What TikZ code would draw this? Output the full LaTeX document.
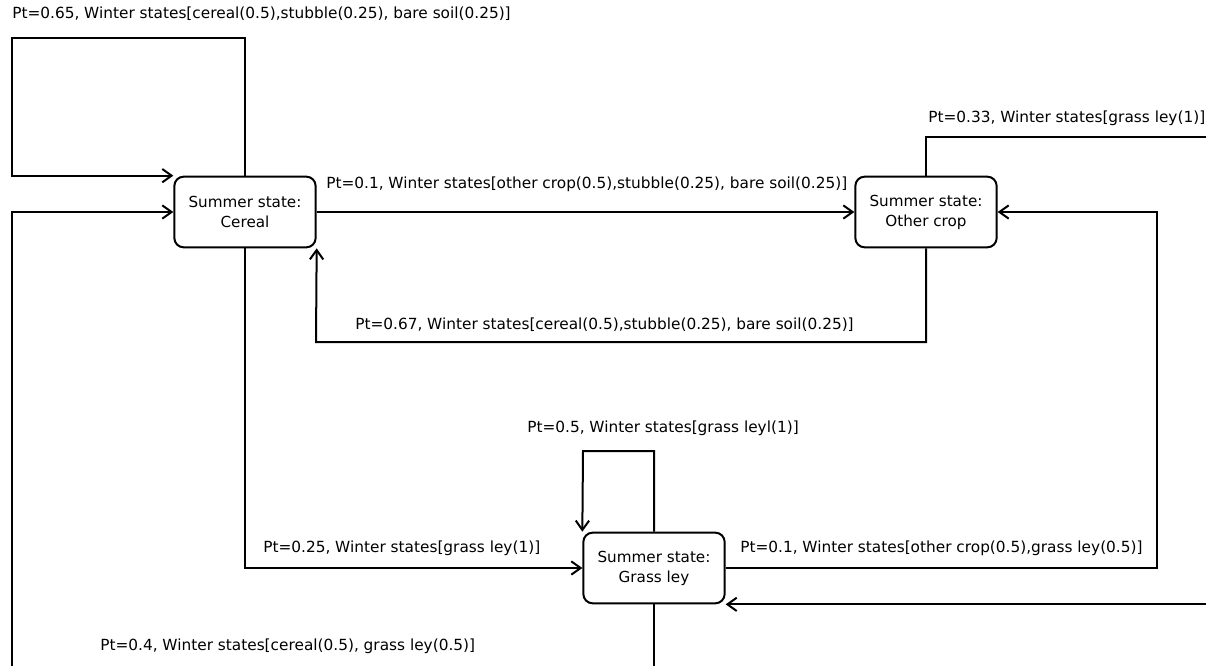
\documentclass[tikz,border=0pt]{standalone}
\usepackage{fontspec}
\setmainfont{DejaVu Sans}
\usetikzlibrary{arrows, arrows.meta}
\usetikzlibrary{positioning}

\begin{document}
\begin{tikzpicture}[x=0.75pt, y=-0.75pt,
  state/.style={draw, line width=1.5pt, rounded corners=7pt, minimum width=106pt, minimum height=53pt, align=center, font=\fontsize{11.4}{15}\selectfont},
  link/.style={-{Straight Barb[length=7pt, width=10pt]}, line width=1.5pt},
  lbl/.style={font=\fontsize{11.5}{13}\selectfont, inner sep=0pt}]

\useasboundingbox (0,0) rectangle (1206,665);
\clip (0,0) rectangle (1206,665);

%states
\node [state] (cereal) at (245,212) {Summer state:\\Cereal};
\node [state] (other) at (926,212) {Summer state:\\Other crop};
\node [state] (grass) at (654,568) {Summer state:\\Grass ley};

%corners
\coordinate (loopc) at (12,38);
\coordinate (back) at (316,342);
\coordinate (loopg) at (583,451);
\coordinate (rise) at (1157,212);
\coordinate (offtop) at (1240,137);
\coordinate (offlow) at (offtop |- grass.south east);
\coordinate (offdown) at (654,700);
\coordinate (offleft) at (12,700);

%transitions
\draw[link] (cereal.north) |- (loopc) |- (cereal.north west);
\draw[link] (cereal.east) -- (other.west);
\draw[link] (other.south) |- (back) -- (cereal.south east);
\draw[link] (cereal.south) |- (grass.west);
\draw[link] (grass.north) |- (loopg) -- (grass.north west);
\draw[link] (grass.east) -| (rise) -- (other.east);
\draw[link] (other.north) |- (offtop) -- (offlow) -- (grass.south east);
\draw[link] (grass.south) -- (offdown) -- (offleft) |- (cereal.west);

%labels
\node [lbl, anchor=west] (t1) at (12,14) {Pt=0.65, Winter states[cereal(0.5),stubble(0.25), bare soil(0.25)]};
\node [lbl, anchor=west] (t2) at (326,184) {Pt=0.1, Winter states[other crop(0.5),stubble(0.25), bare soil(0.25)]};
\node [lbl, anchor=west] (t3) at (355,325) {Pt=0.67, Winter states[cereal(0.5),stubble(0.25), bare soil(0.25)]};
\node [lbl, anchor=west] (t4) at (928,118) {Pt=0.33, Winter states[grass ley(1)]};
\node [lbl, anchor=west] (t5) at (527,428) {Pt=0.5, Winter states[grass leyl(1)]};
\node [lbl, anchor=west] (t6) at (263,548) {Pt=0.25, Winter states[grass ley(1)]};
\node [lbl, anchor=west] (t7) at (740,548) {Pt=0.1, Winter states[other crop(0.5),grass ley(0.5)]};
\node [lbl, anchor=west] (t8) at (100,646) {Pt=0.4, Winter states[cereal(0.5), grass ley(0.5)]};

\end{tikzpicture}
\end{document}
